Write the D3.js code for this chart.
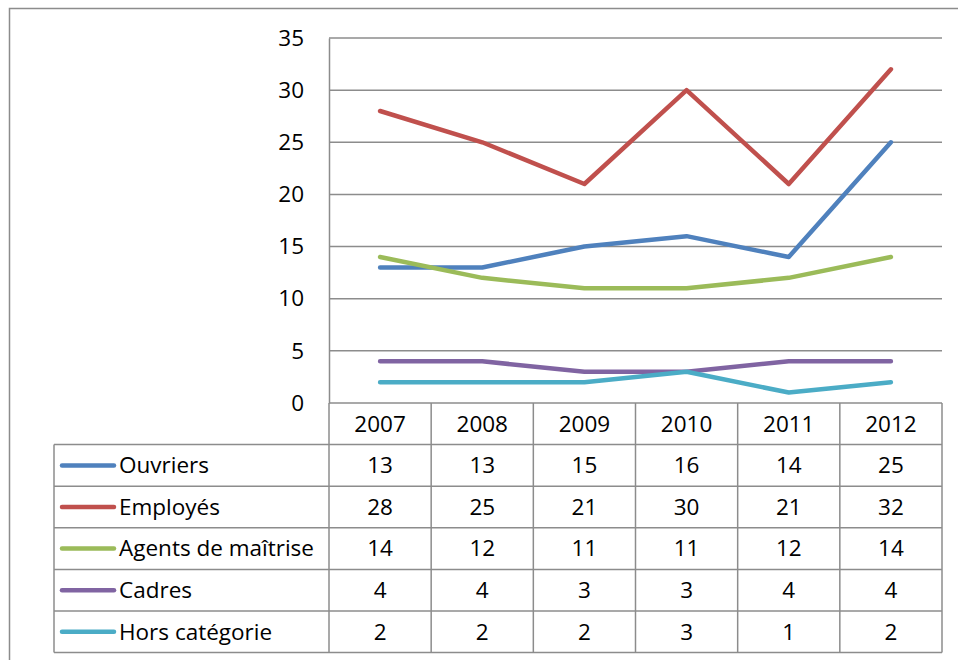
<!DOCTYPE html>
<html>
<head>
<meta charset="utf-8">
<script src="https://cdn.jsdelivr.net/npm/d3@7"></script>
<style>
  body { margin: 0; background: #fff; }
  text { font-family: "Open Sans", Lato, sans-serif; fill: #000; }
</style>
</head>
<body>
<section></section>
<script>
// données
var annees = ["2007", "2008", "2009", "2010", "2011", "2012"]
var categories = ["Ouvriers", "Employés", "Agents de maîtrise", "Cadres", "Hors catégorie"]
var ouvriers = [13, 13, 15, 16, 14, 25]
var employes = [28, 25, 21, 30, 21, 32]
var agents = [14, 12, 11, 11, 12, 14]
var cadres = [4, 4, 3, 3, 4, 4]
var horsCategorie = [2, 2, 2, 3, 1, 2]
var couleurs = ["#4F81BD", "#C0504D", "#9BBB59", "#8064A2", "#4BACC6"]
var ticksY = [0, 5, 10, 15, 20, 25, 30, 35]

var series = [ouvriers, employes, agents, cadres, horsCategorie]

var width = 958
var height = 660
var margin = { top: 38, left: 329, right: 16, bottom: 403 }
var tableLeft = 54
var rowH = 41.6
var taille = "22.5px"

var svg = d3.select("section")
    .append("svg")
    .attr("width", width)
    .attr("height", height)

// cadre extérieur
svg.append("rect")
    .attr("x", 9.5).attr("y", 8.5)
    .attr("width", 960).attr("height", 670)
    .attr("fill", "none").attr("stroke", "#8c8c8c").attr("stroke-width", 1.5)

var escalaX = d3.scaleBand()
    .domain(annees)
    .range([margin.left, width - margin.right])

var escalaY = d3.scaleLinear()
    .domain([0, 35])
    .range([margin.bottom, margin.top])

// grille
svg.append("g")
    .selectAll("line")
    .data(ticksY)
    .join("line")
    .attr("x1", margin.left).attr("x2", width - margin.right)
    .attr("y1", d => escalaY(d)).attr("y2", d => escalaY(d))
    .attr("stroke", "#8c8c8c").attr("stroke-width", 1.5)

// axe Y
var ejeY = d3.axisLeft(escalaY).tickValues(ticksY).tickSize(0).tickPadding(25)
var gY = svg.append("g")
    .attr("transform", "translate(" + margin.left + ",0)")
    .call(ejeY)
gY.select(".domain").attr("stroke", "#8c8c8c").attr("stroke-width", 1.5)
gY.selectAll("text").style("font-size", taille).style("font-family", "'Open Sans', sans-serif")

// lignes
var linea = d3.line()
    .x((d, i) => escalaX(annees[i]) + escalaX.bandwidth() / 2)
    .y(d => escalaY(d))

svg.append("g")
    .selectAll("path")
    .data(series)
    .join("path")
    .attr("d", d => linea(d))
    .attr("fill", "none")
    .attr("stroke", (d, i) => couleurs[i])
    .attr("stroke-width", 4.5)
    .attr("stroke-linecap", "round")
    .attr("stroke-linejoin", "round")

// tableau de données
var tabla = svg.append("g")
var bordes = { stroke: "#8c8c8c", width: 1.5 }
var tableBottom = margin.bottom + rowH * 6

// lignes horizontales du tableau
for (var r = 1; r <= 6; r++) {
    tabla.append("line")
        .attr("x1", tableLeft)
        .attr("x2", width - margin.right)
        .attr("y1", margin.bottom + rowH * r).attr("y2", margin.bottom + rowH * r)
        .attr("stroke", bordes.stroke).attr("stroke-width", bordes.width)
}
// lignes verticales
tabla.selectAll("line.v")
    .data(annees)
    .join("line")
    .attr("class", "v")
    .attr("x1", d => escalaX(d) + escalaX.bandwidth()).attr("x2", d => escalaX(d) + escalaX.bandwidth())
    .attr("y1", margin.bottom).attr("y2", tableBottom)
    .attr("stroke", bordes.stroke).attr("stroke-width", bordes.width)
tabla.append("line")
    .attr("x1", margin.left).attr("x2", margin.left)
    .attr("y1", margin.bottom).attr("y2", tableBottom)
    .attr("stroke", bordes.stroke).attr("stroke-width", bordes.width)
tabla.append("line")
    .attr("x1", tableLeft).attr("x2", tableLeft)
    .attr("y1", margin.bottom + rowH).attr("y2", tableBottom)
    .attr("stroke", bordes.stroke).attr("stroke-width", bordes.width)

// années
tabla.selectAll("text.annee")
    .data(annees)
    .join("text")
    .attr("class", "annee")
    .attr("x", d => escalaX(d) + escalaX.bandwidth() / 2)
    .attr("y", margin.bottom + rowH / 2)
    .attr("dy", "0.35em")
    .attr("text-anchor", "middle")
    .style("font-size", taille)
    .text(d => d)

// lignes du tableau
var filas = tabla.selectAll("g.fila")
    .data(series)
    .join("g")
    .attr("class", "fila")
    .attr("transform", (d, i) => "translate(0," + (margin.bottom + rowH * (i + 1)) + ")")

filas.append("line")
    .attr("x1", tableLeft + 8).attr("x2", tableLeft + 60)
    .attr("y1", rowH / 2).attr("y2", rowH / 2)
    .attr("stroke", (d, i) => couleurs[i])
    .attr("stroke-width", 4.5)
    .attr("stroke-linecap", "round")

filas.append("text")
    .attr("x", tableLeft + 65)
    .attr("y", rowH / 2)
    .attr("dy", "0.35em")
    .style("font-size", taille)
    .text((d, i) => categories[i])

filas.selectAll("text.val")
    .data(d => d)
    .join("text")
    .attr("class", "val")
    .attr("x", (d, i) => escalaX(annees[i]) + escalaX.bandwidth() / 2)
    .attr("y", rowH / 2)
    .attr("dy", "0.35em")
    .attr("text-anchor", "middle")
    .style("font-size", taille)
    .text(d => d)
</script>
</body>
</html>
